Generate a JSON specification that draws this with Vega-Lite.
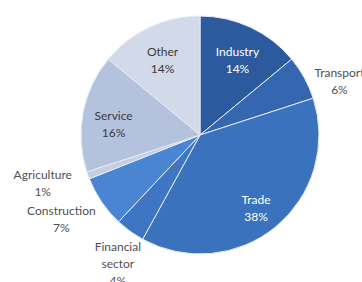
{
  "$schema": "https://vega.github.io/schema/vega-lite/v6.json",
  "width": 324,
  "height": 270,
  "autosize": "none",
  "padding": {"left": 38, "top": 0, "right": 0, "bottom": 12},
  "background": "white",
  "config": {"view": {"stroke": null}, "text": {"font": "Lato", "fontSize": 12, "lineBreak": "\n", "lineHeight": 17}},
  "data": {"values": [
    {"category": "Industry", "value": 14, "order": 1, "label": "Industry\n14%"},
    {"category": "Transport", "value": 6, "order": 2, "label": "Transport\n6%"},
    {"category": "Trade", "value": 38, "order": 3, "label": "Trade\n38%"},
    {"category": "Financial sector", "value": 4, "order": 4, "label": "Financial\nsector\n4%"},
    {"category": "Construction", "value": 7, "order": 5, "label": "Construction\n7%"},
    {"category": "Agriculture", "value": 1, "order": 6, "label": "Agriculture\n1%"},
    {"category": "Service", "value": 16, "order": 7, "label": "Service\n16%"},
    {"category": "Other", "value": 14, "order": 8, "label": "Other\n14%"}
  ]},
  "encoding": {
    "theta": {"field": "value", "type": "quantitative", "stack": true},
    "order": {"field": "order", "type": "quantitative", "sort": "ascending"}
  },
  "layer": [
    {
      "mark": {"type": "arc", "outerRadius": 119, "stroke": "#e4ebf5", "strokeWidth": 1},
      "encoding": {
        "color": {"field": "category", "type": "nominal", "legend": null,
          "scale": {"domain": ["Industry", "Transport", "Trade", "Financial sector", "Construction", "Agriculture", "Service", "Other"],
                    "range": ["#2b5b9e", "#3467b0", "#3b72be", "#3e76c4", "#4a84d2", "#c4cfe3", "#b4c2de", "#d2d9e8"]}}
      }
    },
    {
      "mark": {"type": "text", "radius": 88, "dy": -3, "align": "center", "baseline": "middle"},
      "encoding": {
        "detail": {"field": "category", "type": "nominal"},
        "text": {"condition": {"test": "indexof(['Industry','Trade','Service','Other'], datum.category) >= 0", "field": "label"}, "value": ""},
        "color": {"condition": {"test": "indexof(['Industry','Trade'], datum.category) >= 0", "value": "#ffffff"}, "value": "#3c3c3c"}
      }
    },
    {
      "mark": {"type": "text", "radius": 150, "dx": 8, "dy": 10, "align": "center", "baseline": "middle", "color": "#505050"},
      "encoding": {
        "detail": {"field": "category", "type": "nominal"},
        "text": {"condition": {"test": "datum.category == 'Transport'", "field": "label"}, "value": ""}
      }
    },
    {
      "mark": {"type": "text", "radius": 150, "dx": 6, "dy": -9, "align": "center", "baseline": "middle", "color": "#505050"},
      "encoding": {
        "detail": {"field": "category", "type": "nominal"},
        "text": {"condition": {"test": "datum.category == 'Financial sector'", "field": "label"}, "value": ""}
      }
    },
    {
      "mark": {"type": "text", "radius": 164, "dx": -3, "dy": -16, "align": "center", "baseline": "middle", "color": "#505050"},
      "encoding": {
        "detail": {"field": "category", "type": "nominal"},
        "text": {"condition": {"test": "indexof(['Construction','Agriculture'], datum.category) >= 0", "field": "label"}, "value": ""}
      }
    }
  ]
}
